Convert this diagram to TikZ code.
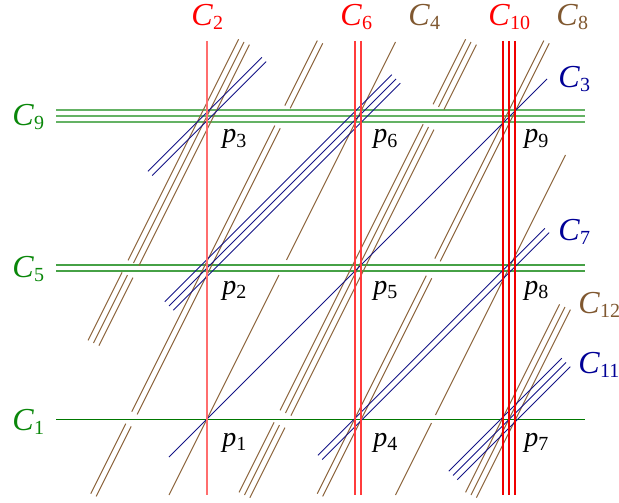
\documentclass[tikz,border=0pt]{standalone}
\usepackage{fontspec}
\setmainfont{Liberation Serif}
\definecolor{cred}{RGB}{255,0,0}
\definecolor{cgreen}{RGB}{10,135,10}
\definecolor{cbrown}{RGB}{128,88,48}
\definecolor{cblue}{RGB}{0,0,150}
\definecolor{lbrown}{RGB}{140,100,60}
\definecolor{lblue}{RGB}{20,20,135}
\definecolor{lgreenA}{RGB}{100,178,100}
\definecolor{lgreenB}{RGB}{0,120,0}
\definecolor{lredA}{RGB}{255,110,110}
\definecolor{lredB}{RGB}{255,60,60}
\definecolor{lredC}{RGB}{240,0,0}
\newcommand\Cl[1]{\textit{C}\raisebox{-2pt}{\fontsize{10}{12}\selectfont #1}}
\newcommand\Pl[1]{\textit{p}\raisebox{-2pt}{\fontsize{10}{12}\selectfont #1}}
\newcommand\bseg[4]{\foreach \k in {#1}{\draw[brownl] ({(#2-#3)/2+\k*5.37},{#3+\k*2.68}) -- ({(#2-#4)/2+\k*5.37},{#4+\k*2.68});}}
\newcommand\useg[4]{\foreach \k in {#1}{\draw[bluel] ({#3+\k*4.24},{#2-#3+\k*4.24}) -- ({#4+\k*4.24},{#2-#4+\k*4.24});}}
\begin{document}
\begin{tikzpicture}[x=0.5pt,y=-0.5pt,
  brownl/.style={draw=lbrown,line width=0.5pt},
  bluel/.style={draw=lblue,line width=0.5pt},
  lab/.style={inner sep=0pt,anchor=base west,font=\fontsize{16}{19}\selectfont},
  plab/.style={inner sep=0pt,anchor=base west,font=\fontsize{14}{17}\selectfont}]
\useasboundingbox (0,0) rectangle (619,502);
% horizontal lines
\foreach \y in {110.5,116.5,122.5}{\draw[draw=lgreenA,line width=1pt] (56,\y) -- (585,\y);}
\foreach \y in {265,271}{\draw[draw=lgreenA!70!lgreenB,line width=0.8pt] (56,\y) -- (585,\y);}
\draw[draw=lgreenB,line width=0.6pt] (56,419.5) -- (585,419.5);
% brown curves
\bseg{0}{833}{42}{260}
\bseg{0}{833}{275}{495}
\bseg{0}{1286}{155}{415}
\bseg{0}{1286}{423}{495}
\bseg{-0.5,0.5}{682}{42}{107}
\bseg{-0.5,0.5}{682}{127}{413}
\bseg{-0.5,0.5}{682}{425}{495}
\bseg{-0.5,0.5}{1135}{42}{260}
\bseg{-0.5,0.5}{1135}{277}{495}
\bseg{-1,0,1}{530}{42}{263}
\bseg{-1,0,1}{530}{275}{343}
\bseg{-1,0,1}{984}{42}{107}
\bseg{-1,0,1}{984}{127}{413}
\bseg{-1,0,1}{984}{425}{495}
\bseg{-1,0,1}{1437}{307}{495}
% blue curves
\useg{0}{626}{169}{547}
\useg{-0.5,0.5}{323.5}{150}{264}
\useg{-0.5,0.5}{777.5}{320}{547}
\useg{-1,0,1}{475}{169}{396}
\useg{-1,0,1}{928.5}{453}{566}
% vertical lines
\draw[draw=lredA,line width=0.9pt] (207,41) -- (207,495);
\draw[draw=lredB,line width=0.6pt] (355,41) -- (355,495);
\draw[draw=lredB,line width=0.6pt] (361,41) -- (361,495);
\draw[draw=lredC,line width=0.55pt] (503,41) -- (503,495);
\draw[draw=lredC,line width=0.55pt] (509,41) -- (509,495);
\draw[draw=lredC,line width=0.55pt] (515,41) -- (515,495);
% labels
\node[lab,text=cred] (lC2) at (191,26) {\Cl{2}};
\node[lab,text=cred] (lC6) at (340,26) {\Cl{6}};
\node[lab,text=cbrown] (lC4) at (408,26) {\Cl{4}};
\node[lab,text=cred] (lC10) at (488,26) {\Cl{10}};
\node[lab,text=cbrown] (lC8) at (556,26) {\Cl{8}};
\node[lab,text=cblue] (lC3) at (558,88) {\Cl{3}};
\node[lab,text=cblue] (lC7) at (558,240) {\Cl{7}};
\node[lab,text=cbrown] (lC12) at (578,313) {\Cl{12}};
\node[lab,text=cblue] (lC11) at (578,373) {\Cl{11}};
\node[lab,text=cgreen] (lC9) at (12,126) {\Cl{9}};
\node[lab,text=cgreen] (lC5) at (12,277) {\Cl{5}};
\node[lab,text=cgreen] (lC1) at (12,430) {\Cl{1}};
\node[plab] (p1) at (222,446) {\Pl{1}};
\node[plab] (p2) at (222,294.5) {\Pl{2}};
\node[plab] (p3) at (222,143) {\Pl{3}};
\node[plab] (p4) at (373,446) {\Pl{4}};
\node[plab] (p5) at (373,294.5) {\Pl{5}};
\node[plab] (p6) at (373,143) {\Pl{6}};
\node[plab] (p7) at (524,446) {\Pl{7}};
\node[plab] (p8) at (524,294.5) {\Pl{8}};
\node[plab] (p9) at (524,143) {\Pl{9}};
\end{tikzpicture}
\end{document}
